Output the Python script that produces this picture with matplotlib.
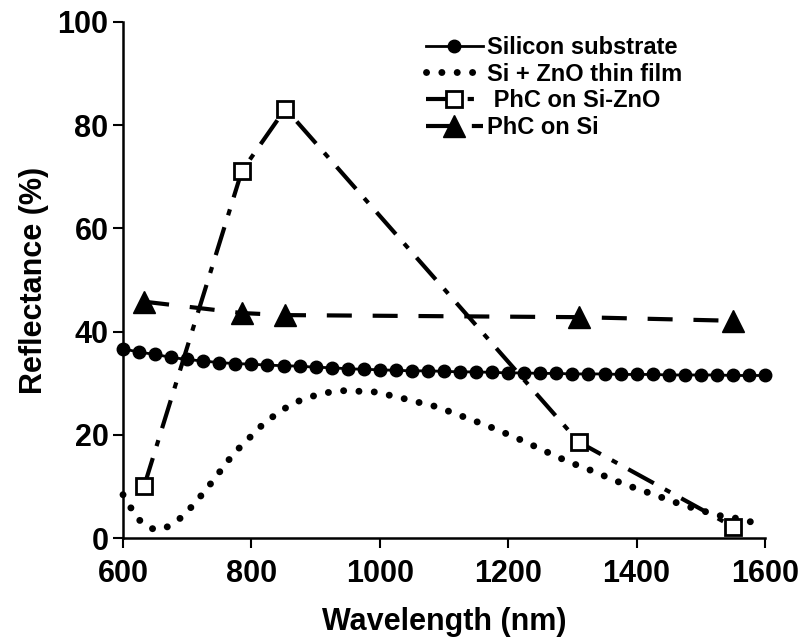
import matplotlib
matplotlib.use('Agg')
import matplotlib.pyplot as plt

plt.rcParams['font.family'] = ['Liberation Sans', 'DejaVu Sans']
plt.rcParams['font.weight'] = 'bold'

# Silicon substrate
si_x = [600, 625, 650, 675, 700, 725, 750, 775, 800, 825, 850, 875, 900, 925, 950,
        975, 1000, 1025, 1050, 1075, 1100, 1125, 1150, 1175, 1200, 1225, 1250, 1275,
        1300, 1325, 1350, 1375, 1400, 1425, 1450, 1475, 1500, 1525, 1550, 1575, 1600]
si_y = [36.7, 36.0, 35.6, 35.0, 34.6, 34.3, 34.0, 33.8, 33.7, 33.5, 33.4, 33.3, 33.1,
        33.0, 32.8, 32.7, 32.6, 32.5, 32.4, 32.4, 32.3, 32.2, 32.2, 32.1, 32.0, 32.0,
        31.9, 31.9, 31.8, 31.8, 31.8, 31.7, 31.7, 31.7, 31.6, 31.6, 31.6, 31.6, 31.5,
        31.5, 31.5]

# Si + ZnO thin film
film_x = [600, 613, 628, 649, 670, 691, 711, 728, 744, 761, 779, 800, 820, 841, 863,
          885, 907, 928, 949, 972, 993, 1014, 1035, 1056, 1079, 1100, 1122, 1143, 1165,
          1186, 1209, 1229, 1251, 1272, 1295, 1319, 1341, 1363, 1384, 1406, 1428, 1449,
          1470, 1491, 1516, 1537, 1558, 1579, 1600]
film_y = [8.4, 5.7, 3.1, 1.6, 2.2, 4.0, 6.6, 9.2, 11.7, 14.6, 17.2, 19.8, 22.3, 24.2,
          26.0, 27.1, 27.9, 28.4, 28.6, 28.4, 28.3, 27.7, 27.1, 26.4, 25.8, 24.9, 23.9,
          22.9, 21.9, 20.8, 19.6, 18.5, 17.2, 16.0, 14.7, 13.6, 12.5, 11.3, 10.3, 9.3,
          8.4, 7.4, 6.5, 5.7, 4.8, 4.1, 3.8, 3.1, 2.6]

# photonic crystal samples at laser wavelengths
laser_x = [633, 785, 853, 1310, 1550]
phc_znO_y = [10.1, 71.1, 83.2, 18.6, 2.2]
phc_si_y = [45.8, 43.6, 43.2, 42.8, 42.1]

fig = plt.figure(figsize=(8.04, 6.39), dpi=100)
ax = fig.add_axes([0.153, 0.158, 0.7985, 0.8076])

ax.plot(si_x, si_y, color='black', lw=2, marker='o', ms=9, clip_on=False,
        label='Silicon substrate')
ax.plot(film_x, film_y, color='black', lw=5, linestyle=(0, (0.01, 2.2)),
        dash_capstyle='round', clip_on=False, label='Si + ZnO thin film')
ax.plot(laser_x, phc_znO_y, color='black', lw=3, linestyle=(0, (7, 3, 1.5, 3)),
        marker='s', ms=12, mfc='white', mec='black', mew=2, clip_on=False,
        label=' PhC on Si-ZnO')
ax.plot(laser_x, phc_si_y, color='black', lw=3, linestyle=(0, (6, 5)),
        marker='^', ms=16, clip_on=False, label='PhC on Si')

ax.set_xlim(600, 1600)
ax.set_ylim(0, 100)
ax.set_xticks([600, 800, 1000, 1200, 1400, 1600])
ax.set_yticks([0, 20, 40, 60, 80, 100])
ax.spines['top'].set_visible(False)
ax.spines['right'].set_visible(False)
ax.spines['left'].set_linewidth(1.8)
ax.spines['bottom'].set_linewidth(1.8)
ax.tick_params(direction='out', length=7, width=1.5, labelsize=22)
ax.tick_params(axis='x', pad=8)
for lab in ax.get_xticklabels() + ax.get_yticklabels():
    lab.set_fontweight('bold')

ax.set_xlabel('Wavelength (nm)', fontsize=22, fontweight='bold', labelpad=13)
ax.set_ylabel('Reflectance (%)', fontsize=22, fontweight='bold', labelpad=6)

leg = ax.legend(loc='upper left', bbox_to_anchor=(0.45, 1.0), frameon=False,
                fontsize=17, handlelength=2.4, handletextpad=0.2,
                labelspacing=0.15, borderaxespad=0.2)
for t in leg.get_texts():
    t.set_fontweight('bold')

fig.savefig('out.png', dpi=100)
